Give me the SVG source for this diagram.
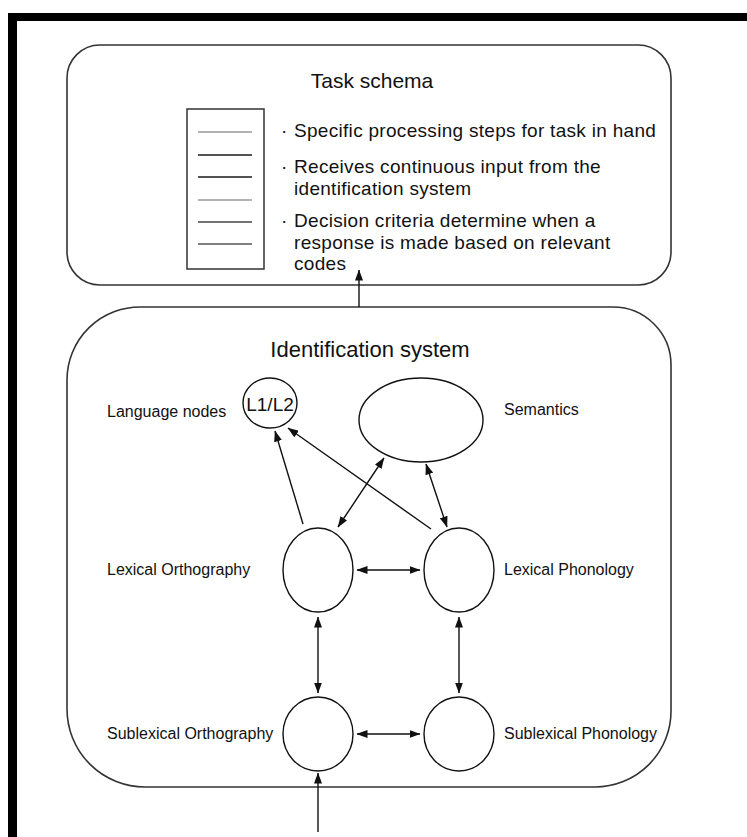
<svg xmlns="http://www.w3.org/2000/svg" width="747" height="837" viewBox="0 0 747 837">
  <defs>
    <style>
      text { font-family: "Liberation Sans", Arial, Helvetica, sans-serif; fill: #111; }
      .title { font-size: 21px; text-anchor: middle; }
      .bullet { font-size: 19px; letter-spacing: 0.3px; }
      .label { font-size: 16px; }
      .frame { fill: none; stroke: #333; stroke-width: 1.6; }
      .node { fill: #fff; stroke: #111; stroke-width: 1.4; }
      .rule { stroke-width: 1.6; }
      .conn { fill: none; stroke: #111; stroke-width: 1.4; }
      .one { marker-end: url(#head); }
      .two { marker-start: url(#head); marker-end: url(#head); }
    </style>
    <marker id="head" markerUnits="userSpaceOnUse" markerWidth="11" markerHeight="8" refX="10.5" refY="4" orient="auto-start-reverse">
      <path d="M0,0 L11,4 L0,8 z" fill="#111"/>
    </marker>
  </defs>

  <rect width="747" height="837" fill="#fff"/>

  <!-- heavy frame on the top and left edges -->
  <rect x="8" y="13" width="739" height="8" fill="#000"/>
  <rect x="8" y="13" width="9" height="824" fill="#000"/>

  <!-- task schema panel -->
  <g id="task-schema">
    <rect class="frame" x="67" y="45" width="604" height="240" rx="33" ry="33"/>
    <text class="title" x="372" y="88">Task schema</text>
    <rect x="187" y="109" width="77" height="160" fill="#fff" stroke="#333" stroke-width="1.5"/>
    <line class="rule" x1="198" y1="132" x2="252" y2="132" stroke="#999"/>
    <line class="rule" x1="198" y1="155" x2="252" y2="155" stroke="#1a1a1a"/>
    <line class="rule" x1="198" y1="177" x2="252" y2="177" stroke="#1a1a1a"/>
    <line class="rule" x1="198" y1="200" x2="252" y2="200" stroke="#999"/>
    <line class="rule" x1="198" y1="222" x2="252" y2="222" stroke="#444"/>
    <line class="rule" x1="198" y1="244" x2="252" y2="244" stroke="#555"/>
    <text class="bullet" x="281" y="137">·</text>
    <text class="bullet" x="294" y="137">Specific processing steps for task in hand</text>
    <text class="bullet" x="281" y="173">·</text>
    <text class="bullet" x="294" y="173">Receives continuous input from the</text>
    <text class="bullet" x="294" y="194.5">identification system</text>
    <text class="bullet" x="281" y="227">·</text>
    <text class="bullet" x="294" y="227">Decision criteria determine when a</text>
    <text class="bullet" x="294" y="248.5">response is made based on relevant</text>
    <text class="bullet" x="294" y="270">codes</text>
  </g>

  <!-- identification system panel -->
  <g id="identification-system">
    <path class="frame" d="M142,307 H613 A58,58 0 0 1 671,365 V710 A76,76 0 0 1 595,787 H145 A78,78 0 0 1 67,709 V380 A73,73 0 0 1 142,307 Z"/>
    <text class="title" x="370" y="357" style="font-size:22px">Identification system</text>
  </g>

  <g id="language-nodes">
    <ellipse class="node" cx="270" cy="403" rx="27" ry="25"/>
    <text x="270" y="411" style="font-size:19px" text-anchor="middle">L1/L2</text>
    <text class="label" x="107" y="417">Language nodes</text>
  </g>

  <g id="semantics">
    <ellipse class="node" cx="421" cy="420" rx="62" ry="42"/>
    <text class="label" x="504" y="415">Semantics</text>
  </g>

  <g id="lexical-orthography">
    <ellipse class="node" cx="318" cy="570" rx="35" ry="42"/>
    <text class="label" x="107" y="575">Lexical Orthography</text>
  </g>

  <g id="lexical-phonology">
    <ellipse class="node" cx="459" cy="570" rx="35" ry="42"/>
    <text class="label" x="504" y="575">Lexical Phonology</text>
  </g>

  <g id="sublexical-orthography">
    <ellipse class="node" cx="318" cy="734" rx="35" ry="37"/>
    <text class="label" x="107" y="739">Sublexical Orthography</text>
  </g>

  <g id="sublexical-phonology">
    <ellipse class="node" cx="459" cy="734" rx="35" ry="37"/>
    <text class="label" x="504" y="739">Sublexical Phonology</text>
  </g>

  <g id="connectors">
    <!-- identification system feeds the task schema -->
    <line class="conn one" x1="359" y1="307" x2="359" y2="270"/>
    <!-- lexical codes to language nodes -->
    <line class="conn one" x1="303" y1="524" x2="275" y2="431"/>
    <line class="conn one" x1="431" y1="529" x2="288" y2="428"/>
    <!-- semantics links -->
    <line class="conn two" x1="384" y1="458" x2="338" y2="527"/>
    <line class="conn two" x1="426" y1="464" x2="447" y2="527"/>
    <!-- orthography / phonology links -->
    <line class="conn two" x1="357" y1="570" x2="420" y2="570"/>
    <line class="conn two" x1="357" y1="734" x2="420" y2="734"/>
    <!-- lexical / sublexical links -->
    <line class="conn two" x1="318" y1="617" x2="318" y2="693"/>
    <line class="conn two" x1="459" y1="617" x2="459" y2="693"/>
    <!-- external input -->
    <line class="conn one" x1="318" y1="832" x2="318" y2="773"/>
  </g>
</svg>
